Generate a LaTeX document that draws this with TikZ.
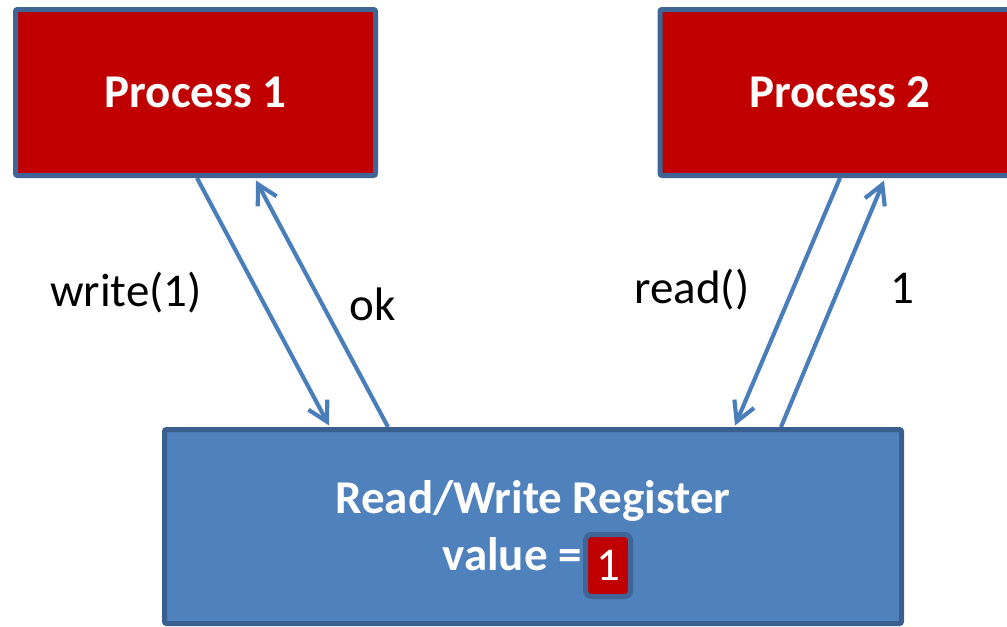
\documentclass[tikz,border=0pt]{standalone}
\usepackage{fontspec}
\setmainfont{Carlito}
\usetikzlibrary{arrows.meta}
\newlength\pxu
\setlength\pxu{0.75pt}
\definecolor{procred}{HTML}{C00000}
\definecolor{boxborder}{HTML}{3E6596}
\definecolor{regfill}{HTML}{4F81BD}
\definecolor{regborder}{HTML}{3A5F8E}
\definecolor{arrowblue}{HTML}{4A7EBB}
\pgfdeclarelayer{bg}
\pgfsetlayers{bg,main}
\tikzset{
  procbox/.style={draw=boxborder, fill=procred, line width=5\pxu, rounded corners=2\pxu,
    minimum width=360\pxu, minimum height=166\pxu, inner sep=0pt, text=white,
    font=\fontsize{35.25pt}{40pt}\selectfont\bfseries},
  regbox/.style={draw=regborder, fill=regfill, line width=5\pxu, rounded corners=2\pxu,
    minimum width=737\pxu, minimum height=194\pxu, inner sep=0pt},
  regtext/.style={text=white, inner sep=0pt, anchor=base,
    font=\fontsize{35.25pt}{40pt}\selectfont\bfseries},
  valbox/.style={draw=boxborder, fill=procred, line width=5\pxu, rounded corners=6\pxu,
    minimum width=45\pxu, minimum height=62\pxu, inner sep=0pt, text=white,
    font=\fontsize{35.25pt}{40pt}\selectfont},
  lbl/.style={text=black, inner sep=0pt, anchor=base,
    font=\fontsize{35.25pt}{40pt}\selectfont},
  conn/.style={draw=arrowblue, line width=3.1pt,
    -{Straight Barb[length=14.5pt, width=16pt]}}
}
\begin{document}
\begin{tikzpicture}[x=0.75pt, y=-0.75pt]
\useasboundingbox (0,0) rectangle (1007,626);
\node[procbox] (p1) at (195.5,92.5) {Process 1};
\node[procbox] (p2) at (840,92.5) {Process 2};
\node[regbox] (reg) at (533,526.5) {};
\node[regtext] (regname) at (533,513) {Read/Write Register};
\node[regtext, anchor=base east] (valtxt) at (582,570) {value =};
\node[valbox] (val) at (608,565.5) {1};
\node[lbl] (lw) at (126,306) {write(1)};
\node[lbl] (lok) at (373,320) {ok};
\node[lbl] (lr) at (692,303) {read()};
\node[lbl] (l1) at (902,303) {1};
\begin{pgfonlayer}{bg}
\draw[conn] ([xshift=1.125pt]p1.south) -- ([xshift=-153pt, yshift=1.125pt]reg.north);
\draw[conn] ([xshift=-108.75pt]reg.north) -- ([xshift=45.375pt, yshift=-1.875pt]p1.south);
\draw[conn] (p2.south) -- ([xshift=151.5pt, yshift=1.125pt]reg.north);
\draw[conn] ([xshift=186pt]reg.north) -- ([xshift=33pt, yshift=-1.875pt]p2.south);
\end{pgfonlayer}
\end{tikzpicture}
\end{document}
